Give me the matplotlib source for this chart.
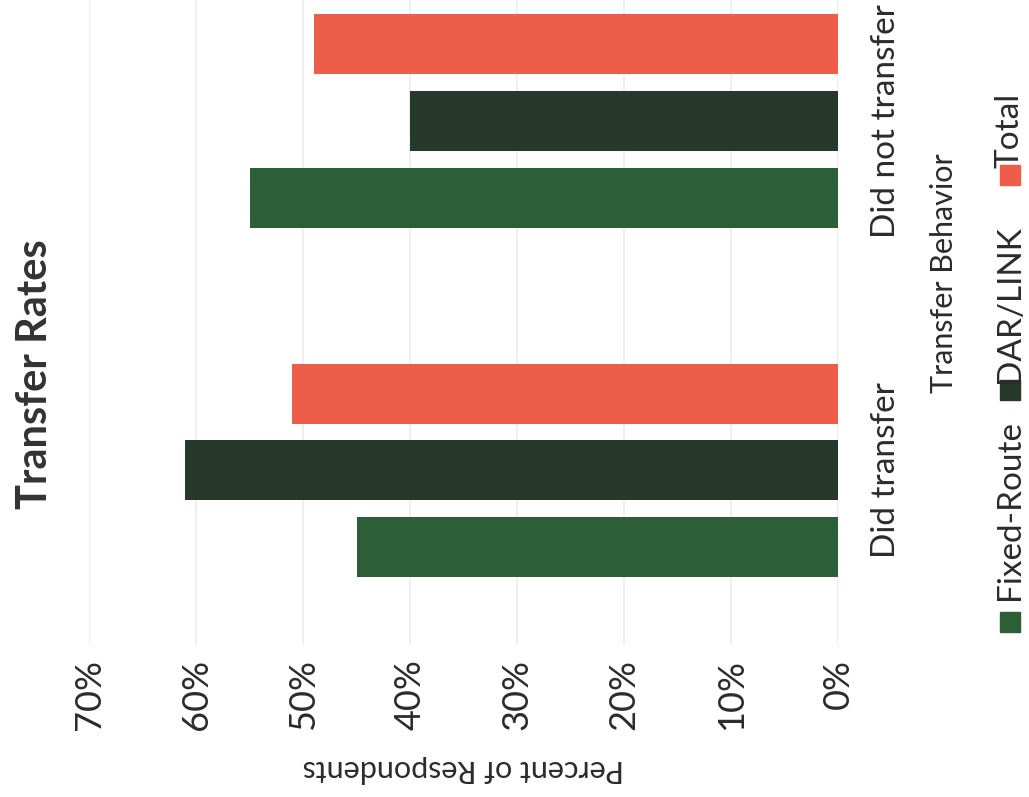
import numpy as np
import matplotlib
matplotlib.use('Agg')
import matplotlib.pyplot as plt
from matplotlib.patches import Rectangle

plt.rcParams['font.family'] = ['Lato', 'DejaVu Sans']

categories = ['Did transfer', 'Did not transfer']
series = ['Fixed-Route', 'DAR/LINK', 'Total']
fixed_route = [45, 55]
dar_link = [61, 40]
total = [51, 49]
ticks = [0, 10, 20, 30, 40, 50, 60, 70]
tick_labels = ['0%', '10%', '20%', '30%', '40%', '50%', '60%', '70%']

colors = ['#2c5f37', '#26392b', '#ee5d4a']
text_col = '#2b2b2b'

fig = plt.figure(figsize=(10.29, 7.97), dpi=100)
# chart is laid out turned on its side: values run right-to-left, text reads upward
ax = fig.add_axes([0.0865, 0.1907, 0.728, 0.8093])

pos = np.arange(len(categories))
offs = [-0.22, 0.0, 0.22]
for vals, off, c, name in zip([fixed_route, dar_link, total], offs, colors, series):
    ax.barh(pos + off, vals, height=0.172, color=c, label=name, zorder=2)

ax.set_xlim(70, 0)
ax.set_ylim(-0.5, 1.347)
ax.set_xticks(ticks)
ax.set_xticklabels(tick_labels, rotation=90, fontsize=26, color=text_col)
ax.tick_params(axis='x', length=0, pad=10)
ax.grid(axis='x', color='#ececec', linewidth=1.2, zorder=0)

ax.yaxis.tick_right()
ax.set_yticks(pos)
ax.set_yticklabels(categories, rotation=90, va='center', fontsize=24, color=text_col)
ax.tick_params(axis='y', length=0, pad=24)

ax.yaxis.set_label_position('right')
ax.set_ylabel('Transfer Behavior', rotation=90, fontsize=22, color=text_col)
ax.yaxis.set_label_coords(1.123, 0.577)

ax.set_xlabel('Percent of Respondents', rotation=180, fontsize=22, color=text_col, labelpad=18)

for s in ax.spines.values():
    s.set_visible(False)

fig.text(0.034, 0.53, 'Transfer Rates', rotation=90, ha='center', va='center',
         fontsize=30, fontweight='bold', color='#333333')

# legend, stacked upward along the right edge
sq_y = [0.207, 0.498, 0.768]
txt_y = [0.247, 0.519, 0.789]
for name, c, y0, ty in zip(series, colors, sq_y, txt_y):
    fig.patches.append(Rectangle((0.9718, y0), 0.0194, 0.025, transform=fig.transFigure,
                                 color=c, zorder=3))
    fig.text(0.9815, ty, name, rotation=90, ha='center', va='bottom',
             fontsize=24, color=text_col)

fig.savefig('out.png', dpi=100, facecolor='white')
